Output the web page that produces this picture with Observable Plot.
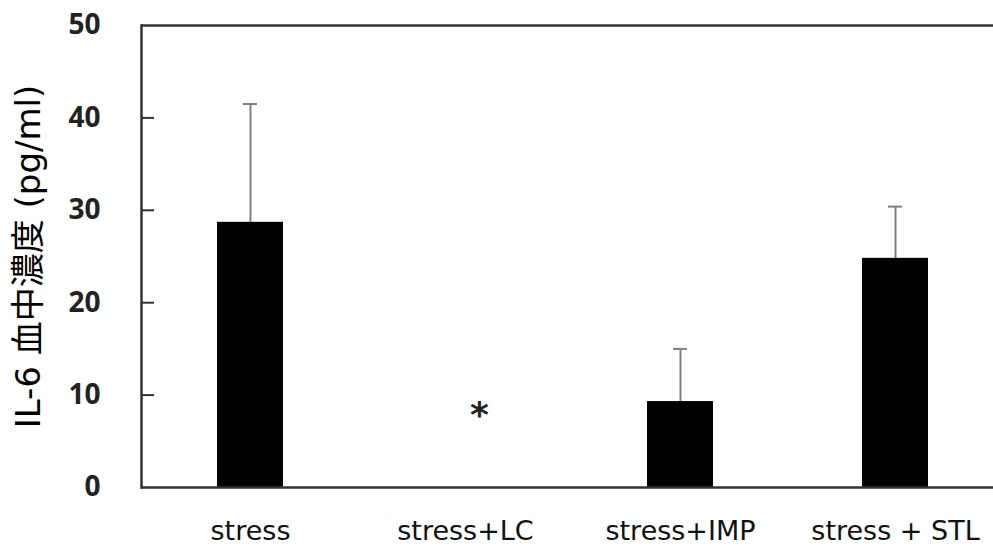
<!DOCTYPE html>
<html>
<head>
<meta charset="utf-8">
<script src="https://cdn.jsdelivr.net/npm/d3@7"></script>
<script src="https://cdn.jsdelivr.net/npm/@observablehq/plot@0.6"></script>
<style>
  html, body { margin: 0; padding: 0; background: #fff; }
  #chart svg { display: block; }
</style>
</head>
<body>
<div id="chart"></div>
<script>
const categories = ["stress", "stress+LC", "stress+IMP", "stress + STL"];
const means = [28.7, null, 9.3, 24.8];
const upper = [41.5, null, 15.0, 30.4];
const marks = ["", "*", "", ""];
const yTicks = [0, 10, 20, 30, 40, 50];
const yLabel = "IL-6 血中濃度 (pg/ml)";

const data = categories.map((c, i) => ({cat: c, mean: means[i], upper: upper[i], mark: marks[i]}));
const bars = data.filter(d => d.mean != null);
const starRows = data.filter(d => d.mark);

const wide = "'DejaVu Sans', 'Noto Sans CJK JP', sans-serif";

const chart = Plot.plot({
  width: 993,
  height: 546,
  marginLeft: 141,
  marginRight: 0,
  marginTop: 25,
  marginBottom: 59,
  style: {fontFamily: wide, color: "#000", background: "#fff", overflow: "visible"},
  x: {domain: categories, range: [141, 1004], paddingInner: 0.694, paddingOuter: 0.347},
  y: {domain: [0, 50], range: [487, 25]},
  marks: [
    Plot.ruleX(bars, {x: "cat", y1: "mean", y2: "upper", stroke: "#7f7f7f", strokeWidth: 2}),
    Plot.tickY(bars, {x: "cat", y: "upper", stroke: "#7f7f7f", strokeWidth: 2, insetLeft: 26, insetRight: 26}),
    Plot.barY(bars, {x: "cat", y: "mean", fill: "#000"}),
    Plot.text(starRows, {x: "cat", y: 7.8, text: "mark", fontSize: 36, fontWeight: "bold", dx: 14, fill: "#222", fontFamily: "'DejaVu Sans', sans-serif"}),
    Plot.axisY(yTicks.filter(t => t > 0 && t < 50), {tickSize: -13, text: null, label: null, stroke: "#333", strokeWidth: 2}),
    Plot.axisY(yTicks, {tickSize: 0, tickPadding: 41, fontSize: 28, fontWeight: "bold", label: null, fill: "#222", fontFamily: "'Open Sans', sans-serif"}),
    Plot.axisX({tickSize: 0, tickPadding: 33, fontSize: 27, label: null, fill: "#111"}),
    Plot.ruleY([0, 50], {stroke: "#333", strokeWidth: 2.5}),
    Plot.frame({anchor: "left", stroke: "#333", strokeWidth: 2.5}),
    Plot.text([yLabel], {frameAnchor: "left", rotate: -90, textAnchor: "middle", dx: -112, fontSize: 34, fill: "#000"})
  ]
});
document.getElementById("chart").appendChild(chart);
</script>
</body>
</html>
